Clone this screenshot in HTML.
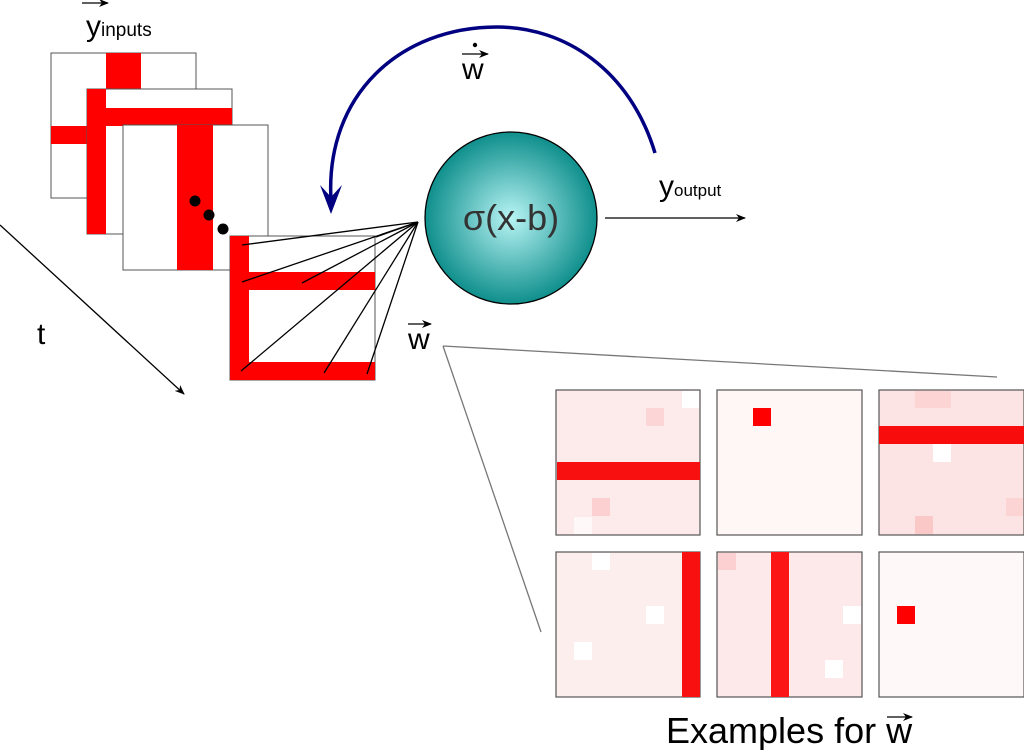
<!DOCTYPE html>
<html><head><meta charset="utf-8"><style>
html,body{margin:0;padding:0;background:#fff;}
svg{display:block;font-family:"Liberation Sans",sans-serif;}
</style></head><body>
<svg width="1024" height="750" viewBox="0 0 1024 750" xmlns="http://www.w3.org/2000/svg">
<defs>
<radialGradient id="g" cx="0.5" cy="0.5" r="0.5">
<stop offset="0" stop-color="#b8f4f4"/><stop offset="1" stop-color="#0f8f8c"/>
</radialGradient>
<marker id="ah" markerWidth="10" markerHeight="8" refX="9" refY="4" orient="auto" markerUnits="userSpaceOnUse">
<path d="M0,0 L10,4 L0,8 L3,4 Z" fill="#000"/></marker>
</defs>
<!-- frame 1 -->
<rect x="51" y="53" width="145" height="145" fill="#fff" stroke="#555" stroke-width="1"/>
<rect x="106" y="53" width="35" height="36" fill="#f00"/>
<rect x="51" y="126" width="36" height="18" fill="#f00"/>
<!-- frame 2 -->
<rect x="87" y="89" width="145" height="145" fill="#fff" stroke="#555"/>
<rect x="87" y="89" width="19" height="145" fill="#f00"/>
<rect x="87" y="108" width="145" height="18" fill="#f00"/>
<!-- frame 3 -->
<rect x="123" y="125" width="145" height="145" fill="#fff" stroke="#555"/>
<rect x="177" y="125" width="36" height="145" fill="#f00"/>
<circle cx="195" cy="201" r="5.5" fill="#000"/>
<circle cx="209" cy="215" r="5.5" fill="#000"/>
<circle cx="223" cy="229" r="5.5" fill="#000"/>
<!-- frame 4 -->
<rect x="230" y="236" width="145" height="144" fill="#fff" stroke="#555"/>
<rect x="230" y="236" width="19" height="144" fill="#f00"/>
<rect x="230" y="272" width="145" height="18" fill="#f00"/>
<rect x="230" y="362" width="145" height="18" fill="#f00"/>
<g stroke="#000" stroke-width="1.3">
<line x1="418" y1="222" x2="242" y2="245"/>
<line x1="418" y1="222" x2="242" y2="282"/>
<line x1="418" y1="222" x2="302" y2="283"/>
<line x1="418" y1="222" x2="376" y2="237"/>
<line x1="418" y1="222" x2="241" y2="371"/>
<line x1="418" y1="222" x2="324" y2="373"/>
<line x1="418" y1="222" x2="367" y2="374"/>
</g>
<!-- t arrow -->
<line x1="0" y1="225" x2="184" y2="394" stroke="#000" stroke-width="1.3" marker-end="url(#ah)"/>
<text x="37" y="344" font-size="30">t</text>
<!-- y inputs -->
<text x="86" y="36" font-size="30">y<tspan font-size="19" dy="0">inputs</tspan></text>
<line x1="82" y1="3" x2="108" y2="3" stroke="#000" stroke-width="1.3" marker-end="url(#ah)"/>
<!-- circle -->
<circle cx="511" cy="218" r="86" fill="url(#g)" stroke="#000" stroke-width="1.3"/>
<text x="511" y="230" font-size="36" fill="#333" text-anchor="middle">σ(x-b)</text>
<!-- blue arc -->
<path d="M655,153 C630,70 565,27 497,27 C400,27 325,95 331,200" fill="none" stroke="#000080" stroke-width="3.5"/>
<path d="M331,214 L320,185 L331,197 L342,185 Z" fill="#000080"/>
<text x="462" y="79" font-size="30">w</text>
<line x1="462" y1="54" x2="488" y2="54" stroke="#000" stroke-width="1.2" marker-end="url(#ah)"/>
<circle cx="475" cy="45" r="2.2" fill="#000"/>
<!-- output -->
<line x1="605" y1="218" x2="745" y2="218" stroke="#000" stroke-width="1.3" marker-end="url(#ah)"/>
<text x="659" y="196" font-size="30">y<tspan font-size="17">output</tspan></text>
<!-- w label -->
<text x="408" y="349" font-size="30">w</text>
<line x1="408" y1="324" x2="431" y2="324" stroke="#000" stroke-width="1.2" marker-end="url(#ah)"/>
<g stroke="#777" stroke-width="1.3" fill="none">
<line x1="443" y1="346" x2="997" y2="377"/>
<line x1="443" y1="346" x2="541" y2="632"/>
</g>
<!-- panels -->
<g stroke="#555" stroke-width="1.2">
<rect x="556" y="390" width="144" height="145" fill="#fdeaea"/>
<rect x="717" y="390" width="145" height="145" fill="#fff6f6"/>
<rect x="879" y="390" width="145" height="145" fill="#fde4e4"/>
<rect x="556" y="552" width="144" height="145" fill="#fdeeee"/>
<rect x="717" y="552" width="145" height="145" fill="#fde9e9"/>
<rect x="879" y="552" width="145" height="145" fill="#fff8f8"/>
</g>
<g>
<rect x="694" y="391" width="5" height="17" fill="#fff"/>
<rect x="682" y="391" width="17" height="17" fill="#fff"/>
<rect x="646" y="408" width="18" height="18" fill="#fcd6d6"/>
<rect x="592" y="498" width="18" height="18" fill="#fcd0d0"/>
<rect x="574" y="517" width="18" height="17" fill="#fff8f8"/>
<rect x="933" y="444" width="18" height="18" fill="#fff"/>
<rect x="915" y="516" width="18" height="18" fill="#fbc8c8"/>
<rect x="1006" y="498" width="17" height="18" fill="#fcd4d4"/>
<rect x="915" y="391" width="36" height="17" fill="#fcd4d4"/>
<rect x="592" y="553" width="18" height="17" fill="#fff"/>
<rect x="646" y="606" width="18" height="18" fill="#fff"/>
<rect x="574" y="642" width="18" height="18" fill="#fff"/>
<rect x="843" y="606" width="18" height="18" fill="#fff"/>
<rect x="825" y="660" width="18" height="18" fill="#fff"/>
<rect x="718" y="553" width="18" height="17" fill="#fcd0d0"/>
</g>
<g fill="#f00">
<rect x="557" y="462" width="143" height="18" fill="#f80f0f"/>
<rect x="753" y="408" width="18" height="18"/>
<rect x="879" y="426" width="145" height="18" fill="#f80c0c"/>
<rect x="682" y="552" width="18" height="145" fill="#f80f0f"/>
<rect x="771" y="552" width="18" height="145" fill="#fb1515"/>
<rect x="897" y="606" width="18" height="18"/>
</g>
<!-- examples -->
<text x="666" y="743" font-size="36">Examples for w</text>
<line x1="887" y1="717" x2="912" y2="717" stroke="#000" stroke-width="1.3" marker-end="url(#ah)"/>
</svg>
</body></html>
